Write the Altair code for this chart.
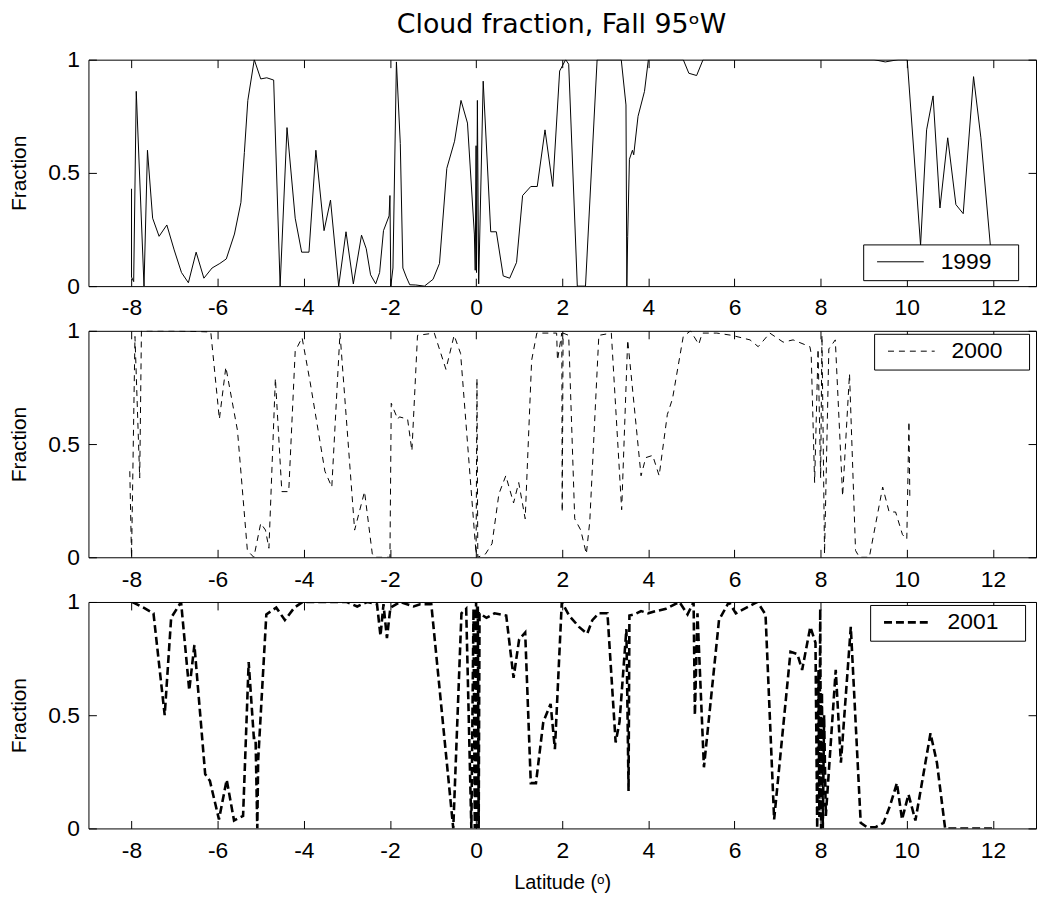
import altair as alt
import pandas as pd

FONT = "Liberation Sans"
TITLE_FONT = "DejaVu Sans"

# ---------------- data ----------------
lat_1999 = [-8.00, -8.00, -7.95, -7.89, -7.71, -7.63, -7.51, -7.36, -7.18, -7.01, -6.84, -6.68, -6.50,
            -6.32, -6.13, -5.95, -5.80, -5.61, -5.46, -5.38, -5.30, -5.15, -5.00, -4.86, -4.70, -4.55,
            -4.39, -4.20, -4.05, -3.88, -3.72, -3.53, -3.38, -3.19, -3.02, -2.85, -2.66, -2.55, -2.45,
            -2.33, -2.24, -2.15, -2.02, -2.00, -1.98, -1.93, -1.85, -1.76, -1.70, -1.62, -1.54, -1.40,
            -1.20, -1.00, -0.85, -0.68, -0.50, -0.35, -0.20, -0.04, -0.02, 0.00, 0.01, 0.03, 0.06,
            0.165, 0.34, 0.47, 0.63, 0.78, 0.94, 1.08, 1.27, 1.42, 1.60, 1.78, 1.94, 2.08, 2.15, 2.35,
            2.54, 2.81, 3.10, 3.37, 3.48, 3.50, 3.52, 3.56, 3.63, 3.66, 3.76, 3.91, 4.00, 4.40, 4.81,
            4.94, 5.12, 5.27, 6.00, 7.00, 8.00, 9.24, 9.50, 9.80, 10.01, 10.32, 10.46, 10.61, 10.77,
            10.95, 11.14, 11.31, 11.55, 11.72, 11.94]
frac_1999 = [0.43, 0.04, 0.02, 0.86, 0.00, 0.60, 0.30, 0.22, 0.27, 0.16, 0.06, 0.015, 0.15,
             0.035, 0.08, 0.10, 0.12, 0.23, 0.37, 0.59, 0.82, 1.00, 0.915, 0.92, 0.91, 0.00,
             0.70, 0.30, 0.15, 0.15, 0.60, 0.245, 0.38, 0.00, 0.24, 0.01, 0.225, 0.165, 0.05,
             0.01, 0.06, 0.245, 0.31, 0.40, 0.00, 0.08, 0.99, 0.63, 0.08, 0.04, 0.006, 0.005,
             0.00, 0.03, 0.10, 0.52, 0.64, 0.82, 0.72, 0.23, 0.07, 0.62, 0.06, 0.82, 0.01,
             0.905, 0.24, 0.24, 0.045, 0.035, 0.105, 0.40, 0.44, 0.44, 0.69, 0.44, 0.95, 1.00, 0.98, 0.00,
             0.00, 1.00, 1.00, 1.00, 0.80, 0.00, 0.22, 0.56, 0.60, 0.58, 0.75, 0.86, 1.00, 1.00, 1.00,
             0.94, 0.93, 1.00, 1.00, 1.00, 1.00, 1.00, 0.99, 1.00, 1.00, 0.18, 0.69, 0.84, 0.345,
             0.655, 0.36, 0.32, 0.925, 0.655, 0.18]

lat_2000 = [-8.04, -8.00, -7.92, -7.81, -7.77, -7.00, -6.16, -5.96, -5.81, -5.54, -5.31, -5.16, -5.00,
            -4.89, -4.81, -4.66, -4.51, -4.35, -4.20, -4.04, -3.85, -3.51, -3.35, -3.16, -2.82, -2.59,
            -2.41, -2.35, -2.09, -2.00, -1.97, -1.82, -1.78, -1.59, -1.49, -1.36, -0.97, -0.70, -0.51,
            -0.36, 0.00, 0.02, 0.04, 0.22, 0.37, 0.53, 0.69, 0.87, 0.99, 1.14, 1.29, 1.41, 1.87, 1.89,
            1.99, 2.00, 2.02, 2.15, 2.29, 2.43, 2.56, 2.64, 2.85, 3.14, 3.38, 3.52, 3.83, 3.94, 4.10,
            4.25, 4.44, 4.56, 4.81, 4.98, 5.17, 5.25, 5.59, 5.94, 6.36, 6.55, 6.82, 7.13, 7.36, 7.75,
            7.78, 7.86, 7.94, 8.00, 8.03, 8.09, 8.19, 8.34, 8.51, 8.67, 8.81, 8.90, 9.13, 9.44, 9.59,
            9.74, 9.90, 10.00, 10.05, 10.07]
frac_2000 = [0.38, 0.00, 0.975, 0.35, 1.00, 1.00, 0.995, 0.61, 0.84, 0.56, 0.03, 0.00, 0.15,
             0.12, 0.04, 0.79, 0.29, 0.29, 0.91, 0.97, 0.77, 0.38, 0.31, 0.99, 0.12, 0.29,
             0.015, 0.00, 0.00, 0.00, 0.68, 0.61, 0.62, 0.61, 0.47, 0.98, 0.99, 0.83, 0.98,
             0.90, 0.015, 0.79, 0.00, 0.015, 0.06, 0.28, 0.36, 0.24, 0.33, 0.17, 0.87, 0.99, 0.99, 0.87,
             0.99, 0.20, 0.99, 0.98, 0.17, 0.12, 0.015, 0.16, 0.98, 0.99, 0.21, 0.96, 0.36, 0.44, 0.45,
             0.36, 0.63, 0.70, 0.975, 1.00, 0.94, 0.99, 0.99, 0.98, 0.96, 0.93, 0.99, 0.95, 0.96, 0.93,
             0.90, 0.33, 0.92, 0.35, 0.98, 0.015, 0.92, 0.96, 0.27, 0.81, 0.03, 0.00, 0.00, 0.31, 0.20,
             0.20, 0.10, 0.08, 0.60, 0.27]

lat_2001 = [-7.98, -7.72, -7.49, -7.23, -7.08, -6.85, -6.66, -6.54, -6.29, -6.18, -5.97, -5.79, -5.62,
            -5.41, -5.28, -5.16, -5.12, -5.08, -5.06, -4.87, -4.64, -4.44, -4.22, -4.03, -3.00, -2.76,
            -2.53, -2.30, -2.22, -2.15, -2.07, -1.99, -1.76, -1.45, -1.30, -1.04, -0.53, -0.34, -0.23,
            -0.11, -0.06, -0.03, 0.00, 0.02, 0.04, 0.06, 0.08, 0.24, 0.43, 0.70, 0.87, 1.00, 1.14, 1.27,
            1.39, 1.56, 1.73, 1.83, 1.99, 2.16, 2.39, 2.58, 2.70, 2.85, 3.05, 3.24, 3.33, 3.49, 3.54,
            3.56, 3.68, 3.83, 3.99, 4.18, 4.41, 4.72, 4.91, 5.05, 5.08, 5.14, 5.29, 5.64, 5.87, 6.03,
            6.33, 6.53, 6.72, 6.92, 7.11, 7.30, 7.46, 7.57, 7.76, 7.88, 7.92, 7.95, 7.97, 7.99, 8.01,
            8.03, 8.05, 8.08, 8.12, 8.35, 8.47, 8.70, 8.93, 9.08, 9.27, 9.46, 9.61, 9.77, 9.89, 10.04,
            10.20, 10.55, 10.70, 10.89, 11.50, 11.99]
frac_2001 = [1.00, 0.975, 0.95, 0.50, 0.93, 1.00, 0.61, 0.81, 0.24, 0.21, 0.04, 0.215, 0.035,
             0.055, 0.735, 0.40, 0.40, 0.00, 0.30, 0.945, 0.975, 0.92, 0.975, 1.00, 1.00, 0.98,
             1.00, 0.99, 0.85, 0.99, 0.84, 0.975, 1.00, 0.98, 0.99, 0.99, 0.00, 0.95, 0.97,
             0.00, 0.97, 0.00, 1.00, 0.00, 0.98, 0.00, 0.95, 0.93, 0.95, 0.94, 0.665, 0.835, 0.865, 0.20,
             0.20, 0.47, 0.55, 0.35, 1.00, 0.94, 0.89, 0.86, 0.92, 0.95, 0.95, 0.38, 0.47, 0.88, 0.165,
             0.94, 0.945, 0.96, 0.95, 0.96, 0.97, 1.00, 0.945, 1.00, 0.50, 0.95, 0.27, 0.92, 1.00, 0.95,
             0.98, 1.00, 0.945, 0.04, 0.41, 0.78, 0.77, 0.70, 0.89, 0.82, 0.00, 0.70, 0.05, 0.97, 0.00,
             0.60, 0.00, 0.50, 0.055, 0.70, 0.29, 0.89, 0.025, 0.005, 0.005, 0.025, 0.10, 0.20, 0.04, 0.15,
             0.035, 0.42, 0.29, 0.00, 0.00, 0.00]

x_ticks = [-8, -6, -4, -2, 0, 2, 4, 6, 8, 10, 12]
y_ticks = [0, 0.5, 1]
x_domain = [-9, 13]
y_domain = [0, 1]

W = 954
H = 228


def panel(lat, frac, year, dash, stroke_w, legend_x, legend_y, x_title):
    df = pd.DataFrame({"lat": lat, "frac": frac, "year": year})
    xscale = alt.Scale(domain=x_domain, nice=False, zero=False)
    yscale = alt.Scale(domain=y_domain, nice=False, zero=False)

    xaxis_kw = dict(orient="bottom", values=x_ticks, offset=-8, tickSize=8, tickColor="black",
                    labelPadding=11, domain=False, grid=False, labelExpr="'' + datum.value",
                    labelFont=FONT, labelFontSize=23, labelColor="black", labelFlush=False)
    if x_title:
        xaxis_kw.update(title=x_title, titleFont=FONT, titleFontSize=20, titleFontWeight="normal",
                        titleColor="black", titlePadding=10)
    else:
        xaxis_kw.update(title=None)

    # legend box: the (white, invisible) title only pads the box on its right side
    leg_kw = dict(title="0", titleOrient="right", titleColor="white", titleFont=FONT,
                  titleFontSize=23, titleFontWeight="normal", titlePadding=8,
                  orient="none", legendX=legend_x, legendY=legend_y,
                  symbolType="M-2.35,0H2.35", symbolSize=400, symbolStrokeWidth=stroke_w,
                  symbolStrokeColor="black", symbolFillColor="transparent",
                  labelFont=FONT, labelFontSize=23, labelColor="black",
                  labelOffset=29, symbolOffset=20, padding=6,
                  strokeColor="black", fillColor="white")
    mark_kw = dict(strokeWidth=stroke_w, color="black", clip=True)
    if dash:
        leg_kw["symbolDash"] = dash
        mark_kw["strokeDash"] = dash

    main = alt.Chart(df).mark_line(**mark_kw).encode(
        x=alt.X("lat:Q", scale=xscale, axis=alt.Axis(**xaxis_kw)),
        y=alt.Y("frac:Q", scale=yscale,
                axis=alt.Axis(orient="left", values=y_ticks, offset=-8, tickSize=8, tickColor="black",
                              labelPadding=9, domain=False, grid=False, labelExpr="'' + datum.value",
                              labelFont=FONT, labelFontSize=23, labelColor="black", labelFlush=False,
                              title="Fraction", titleFont=FONT, titleFontSize=21,
                              titleFontWeight="normal", titleColor="black", titlePadding=18)),
        color=alt.Color("year:N", scale=alt.Scale(range=["black"]), legend=alt.Legend(**leg_kw)),
        order=alt.Order("lat:Q"),
    )
    ghost = alt.Chart(df).mark_line(strokeOpacity=0).encode(
        x=alt.X("lat:Q", scale=xscale,
                axis=alt.Axis(orient="top", values=x_ticks, offset=-8, tickSize=8, tickColor="black",
                              labels=False, domain=False, grid=False, title=None)),
        y=alt.Y("frac:Q", scale=yscale,
                axis=alt.Axis(orient="right", values=y_ticks, offset=-8, tickSize=8, tickColor="black",
                              labels=False, domain=False, grid=False, title=None)),
    )
    return alt.layer(main, ghost).resolve_axis(x="independent", y="independent").properties(
        width=W, height=H)


p1 = panel(lat_1999, frac_1999, "1999", None, 1, 780, 186, None)
p2 = panel(lat_2000, frac_2000, "2000", [6, 5], 1, 791, 3, None)
p3 = panel(lat_2001, frac_2001, "2001", [8, 4], 2.6, 787, 3, "Latitude (ᵒ)")

chart = alt.vconcat(p1, p2, p3, spacing=45, bounds="flush").resolve_scale(
    color="independent").resolve_legend(color="independent").properties(
    title=alt.TitleParams("Cloud fraction, Fall 95ᵒW", font=TITLE_FONT, fontSize=27,
                          fontWeight="normal", color="black", anchor="middle", offset=9, dx=39),
    padding=0,
).configure_view(stroke="black", strokeWidth=1)

chart.save("out.html", embed_options={"renderer": "svg", "actions": False})
